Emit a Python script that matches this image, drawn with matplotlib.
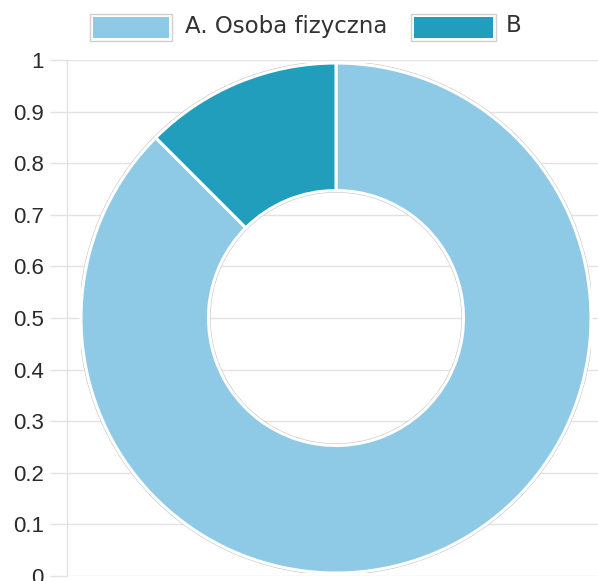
import matplotlib
matplotlib.use("Agg")
import matplotlib.pyplot as plt
from matplotlib.patches import Rectangle, Circle

categories = ["A. Osoba fizyczna", "B"]
values = [0.875, 0.125]
colors = ["#8ECAE6", "#219EBC"]
yticks = [0, 0.1, 0.2, 0.3, 0.4, 0.5, 0.6, 0.7, 0.8, 0.9, 1]
ytick_labels = ["0", "0.1", "0.2", "0.3", "0.4", "0.5", "0.6", "0.7", "0.8", "0.9", "1"]

W, H = 598, 581
fig = plt.figure(figsize=(W / 100, H / 100), dpi=100)
PT = 72 / 100  # points per pixel

def fx(px):
    return px / W

def fy(py):
    return 1 - py / H

# Cartesian background axes with grid
ax = fig.add_axes([fx(67), fy(576), fx(598) - fx(67), fy(60) - fy(576)])
ax.set_ylim(0, 1)
ax.set_xlim(0, 1)
ax.set_yticks(yticks)
ax.set_yticklabels(ytick_labels)
for t in ax.get_yticklabels():
    t.set_fontfamily(["Liberation Sans", "DejaVu Sans"])
    t.set_fontsize(16)
    t.set_color("#2a2a2a")
ax.set_xticks([])
ax.tick_params(axis="y", length=17 * PT, width=1, color="#e2e2e2", pad=6 * PT)
ax.grid(axis="y", color="#e2e2e2", linewidth=1)
for s in ["top", "right", "bottom"]:
    ax.spines[s].set_visible(False)
ax.spines["left"].set_color("#e2e2e2")
ax.spines["left"].set_linewidth(1)
ax.set_facecolor("none")

# Doughnut axes
R = 255
cx, cy = 336, 318
pax = fig.add_axes([fx(cx - R), fy(cy + R), 2 * R / W, 2 * R / H])
pax.set_axis_off()
pax.set_aspect("equal")
pax.add_patch(Circle((0, 0), 1.006, facecolor="none", edgecolor="#c4c4c4", linewidth=0.8))
pax.add_patch(Circle((0, 0), 0.494, facecolor="none", edgecolor="#c4c4c4", linewidth=0.8))
pax.pie(values, colors=colors, startangle=90, counterclock=False, radius=1,
        wedgeprops=dict(width=0.5, edgecolor="white", linewidth=2.2))
pax.set_xlim(-1.0, 1.0)
pax.set_ylim(-1.0, 1.0)

# Legend drawn manually
boxes = [(90, 172), (411, 496)]
text_x = [185, 506]
for (x0, x1), c, tx, lab in zip(boxes, colors, text_x, categories):
    fig.patches.append(Rectangle((fx(x0), fy(41)), fx(x1) - fx(x0), fy(14) - fy(41),
                                 transform=fig.transFigure, facecolor="white",
                                 edgecolor="#d0d0d0", linewidth=1))
    fig.patches.append(Rectangle((fx(x0 + 3), fy(38)), fx(x1 - 3) - fx(x0 + 3), fy(17) - fy(38),
                                 transform=fig.transFigure, facecolor=c,
                                 edgecolor="none"))
    fig.text(fx(tx), fy(26), lab, family=["DejaVu Sans"], fontsize=16.5,
             color="#333333", ha="left", va="center")

fig.savefig("out.png", dpi=100)
